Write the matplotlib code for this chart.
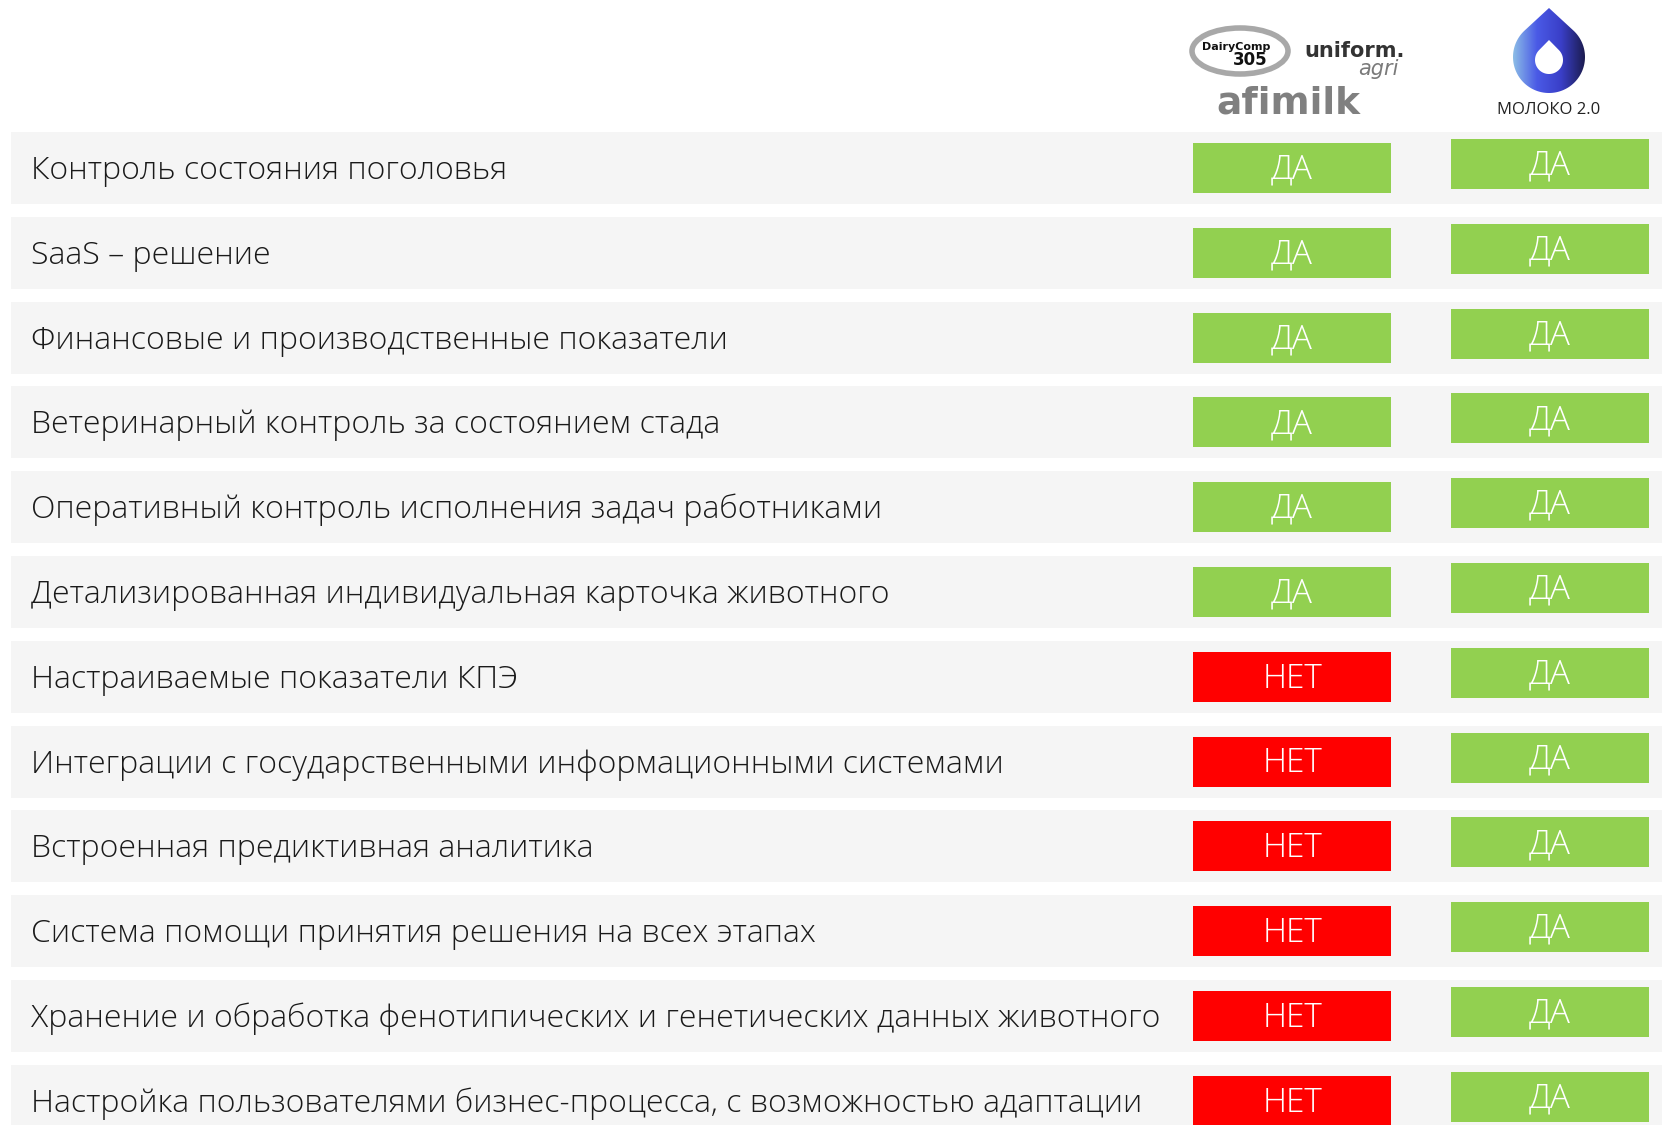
import matplotlib.pyplot as plt
import numpy as np
from matplotlib.patches import Ellipse, PathPatch
from matplotlib.path import Path
from matplotlib.colors import LinearSegmentedColormap

features = [
    "Контроль состояния поголовья",
    "SaaS – решение",
    "Финансовые и производственные показатели",
    "Ветеринарный контроль за состоянием стада",
    "Оперативный контроль исполнения задач работниками",
    "Детализированная индивидуальная карточка животного",
    "Настраиваемые показатели КПЭ",
    "Интеграции с государственными информационными системами",
    "Встроенная предиктивная аналитика",
    "Система помощи принятия решения на всех этапах",
    "Хранение и обработка фенотипических и генетических данных животного",
    "Настройка пользователями бизнес-процесса, с возможностью адаптации",
]
competitors = ["ДА"] * 6 + ["НЕТ"] * 6
moloko = ["ДА"] * 12

GREEN = "#92D050"
RED = "#FF0000"
BAND = "#F5F5F5"

plt.rcParams["font.family"] = ["Open Sans", "DejaVu Sans"]

W, H = 1662, 1125
fig = plt.figure(figsize=(W / 100, H / 100), dpi=100)
ax = fig.add_axes([0, 0, 1, 1])
ax.set_xlim(0, W)
ax.set_ylim(H, 0)
ax.axis("off")

# row centres in pixel units
rows = 168 + 84.8 * np.arange(len(features))

ax.barh(rows, W - 11, left=11, height=72, color=BAND, zorder=1)

colors1 = [GREEN if v == "ДА" else RED for v in competitors]
colors2 = [GREEN if v == "ДА" else RED for v in moloko]
ax.barh(rows, 198, left=1193, height=50, color=colors1, zorder=2)
ax.barh(rows - 4, 198, left=1451, height=50, color=colors2, zorder=2)

for y, name, v1, v2 in zip(rows, features, competitors, moloko):
    ax.text(31, y + 3, name, fontsize=23, color="#1a1a1a", va="center",
            ha="left", fontweight="light", zorder=3)
    ax.text(1193 + 99, y + 2, v1, fontsize=24, color="white", va="center",
            ha="center", fontweight="light", zorder=3)
    ax.text(1451 + 99, y - 2, v2, fontsize=24, color="white", va="center",
            ha="center", fontweight="light", zorder=3)

# --- header: competitor logos ---
ax.add_patch(Ellipse((1240, 51), 96, 46, fill=False, ec="#a8a8a8", lw=4))
ax.text(1236, 47, "DairyComp", fontsize=8, fontweight="bold", color="#111111",
        ha="center", va="center", family="DejaVu Sans")
ax.text(1250, 60, "305", fontsize=12, fontweight="bold", color="#111111",
        ha="center", va="center", family="DejaVu Sans")
ax.text(1355, 51, "uniform.", fontsize=15, fontweight="bold", color="#333333",
        ha="center", va="center", family="DejaVu Sans")
ax.text(1378, 69, "agri", fontsize=15, style="italic", color="#7a7a7a",
        ha="center", va="center", family="DejaVu Sans")
ax.text(1288, 104, "afimilk", fontsize=27, fontweight="heavy", color="#808080",
        ha="center", va="center", family="DejaVu Sans")

# --- header: moloko drop ---
cx, cy, r, tip = 1549, 57, 36, 8
a = np.arccos(r / (cy - tip))
ang = np.linspace(-np.pi / 2 + a, 3 * np.pi / 2 - a, 120)
outer = np.vstack([[cx, tip], np.column_stack([cx + r * np.cos(ang), cy + r * np.sin(ang)]), [cx, tip]])
patch = PathPatch(Path(outer, closed=True), fc="none", ec="none")
ax.add_patch(patch)
cmap = LinearSegmentedColormap.from_list("drop", ["#8cbde6", "#4a5ae6", "#3a3fc8", "#1c1c50"])
im = ax.imshow(np.linspace(0, 1, 256).reshape(1, -1), cmap=cmap,
               extent=[cx - r, cx + r, cy + r, tip], aspect="auto", zorder=3)
im.set_clip_path(patch)

# inner hole
r2, tip2, cy2 = 14, 40, 60
a2 = np.arccos(r2 / (cy2 - tip2))
ang2 = np.linspace(-np.pi / 2 + a2, 3 * np.pi / 2 - a2, 80)
hole = np.vstack([[cx, tip2], np.column_stack([cx + r2 * np.cos(ang2), cy2 + r2 * np.sin(ang2)]), [cx, tip2]])
ax.add_patch(PathPatch(Path(hole, closed=True), fc="white", ec="none", zorder=4))

ax.text(cx, 110, "МОЛОКО 2.0", fontsize=12, color="#222222", ha="center", va="center")

fig.savefig("out.png", dpi=100, facecolor="white")
